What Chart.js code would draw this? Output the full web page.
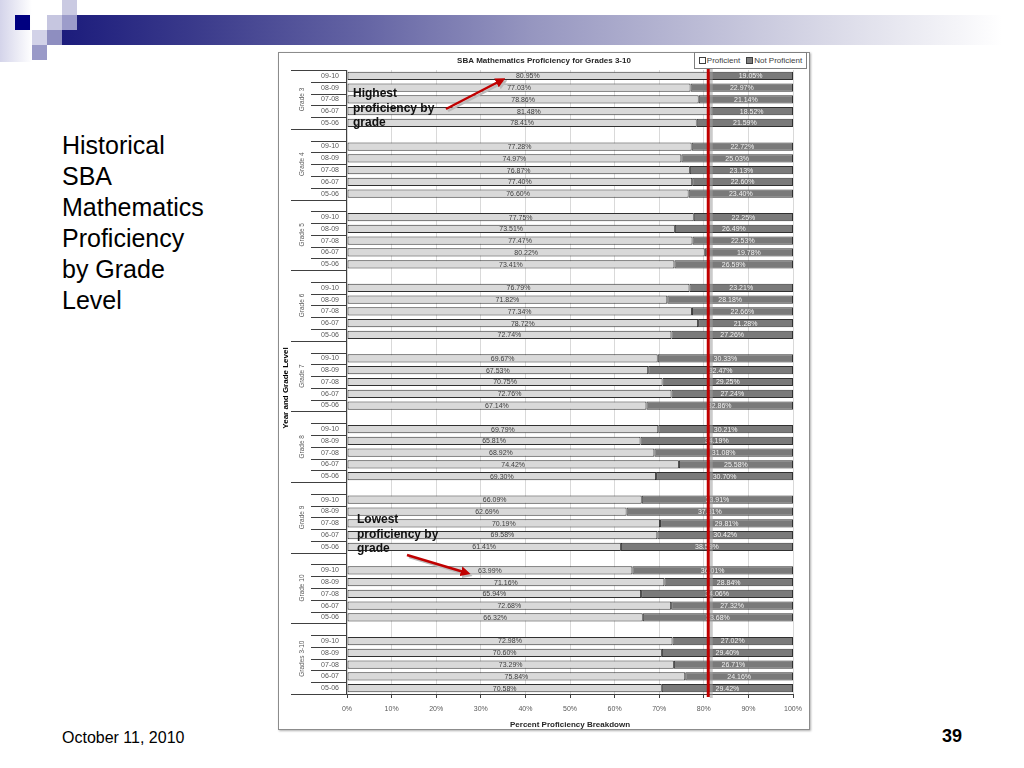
<!DOCTYPE html>
<html>
<head>
<meta charset="utf-8">
<title>Historical SBA Mathematics Proficiency by Grade Level</title>
<script src="https://cdn.jsdelivr.net/npm/chart.js@4.4.0/dist/chart.umd.min.js"></script>
<style>
html,body{margin:0;padding:0;background:#fff;width:1024px;height:768px;overflow:hidden;font-family:"Liberation Sans",Arial,sans-serif;}
.abs{position:absolute;}
.sq{position:absolute;width:15px;height:15px;}
#band{left:62px;top:15px;width:940px;height:30px;background:linear-gradient(to right,#1c1c7c 0%,#3c3c8c 15%,#6464a4 32%,#9696c0 50%,#bcbcd6 68%,#dcdce9 83%,#f4f4f8 95%,#ffffff 100%);}
#fade{left:0;top:0;width:32px;height:62px;background:linear-gradient(to right,#d4d4ea,#ffffff);}
#sideText{left:62px;top:130px;font-size:25px;line-height:31px;color:#000;}
#date{left:62px;top:729px;font-size:16px;color:#000;}
#page{left:930px;top:726px;font-size:18px;font-weight:bold;color:#000;width:32px;text-align:right;}
#frame{left:278px;top:52px;width:530px;height:676px;border:1px solid #8c8c8c;box-shadow:1px 1px 2px #b0b0b0;background:#fff;}
#chartBox{left:278px;top:52px;width:532px;height:678px;}
#legend{left:694px;top:52px;width:111px;height:15px;border:1px solid #7f7f7f;background:#fff;font-size:8px;color:#404040;display:flex;align-items:center;justify-content:center;gap:6px;white-space:nowrap;}
#legend i{display:inline-block;width:5px;height:5px;border:1px solid #404040;margin-right:1px;vertical-align:-1px;}
.note{position:absolute;font-size:12px;font-weight:bold;line-height:14.7px;color:#111;white-space:nowrap;}
#arrows{left:0;top:0;width:1024px;height:768px;pointer-events:none;}
</style>
</head>
<body>
<div class="abs" id="fade"></div>
<div class="abs" id="band"></div>
<div class="sq" style="left:62px;top:0;background:#cacae2"></div>
<div class="sq" style="left:15px;top:15px;background:#000080"></div>
<div class="sq" style="left:47px;top:15px;background:#c6c6e0"></div>
<div class="sq" style="left:62px;top:15px;background:#9c9cca"></div>
<div class="sq" style="left:32px;top:30px;background:#d2d2e8"></div>
<div class="sq" style="left:47px;top:30px;background:#8e8ec0"></div>
<div class="sq" style="left:32px;top:45px;background:#9a9ac8"></div>

<div class="abs" id="sideText">Historical<br>SBA<br>Mathematics<br>Proficiency<br>by Grade<br>Level</div>
<div class="abs" id="date">October 11, 2010</div>
<div class="abs" id="page">39</div>

<div class="abs" id="frame"></div>
<div class="abs" id="chartBox"><canvas id="c" width="532" height="678"></canvas></div>
<div class="abs" id="legend"><span><i style="background:#fff"></i>Proficient</span><span><i style="background:#7f7f7f"></i>Not Proficient</span></div>

<div class="note" style="left:353px;top:86px;">Highest<br>proficiency by<br>grade</div>
<div class="note" style="left:357px;top:512px;">Lowest<br>proficiency by<br>grade</div>
<svg class="abs" id="arrows" viewBox="0 0 1024 768">
  <defs>
    <marker id="ah" markerWidth="4" markerHeight="4" refX="2.5" refY="2" orient="auto"><path d="M0,0 L4,2 L0,4 z" fill="#c00000"/></marker>
    <marker id="ahs" markerWidth="4" markerHeight="4" refX="2.5" refY="2" orient="auto"><path d="M0,0 L4,2 L0,4 z" fill="#bbbbbb"/></marker>
  </defs>
  <line x1="448" y1="111" x2="504" y2="82" stroke="#bbbbbb" stroke-width="2.5" marker-end="url(#ahs)"/>
  <line x1="446" y1="109" x2="502" y2="80" stroke="#c00000" stroke-width="2.5" marker-end="url(#ah)"/>
  <line x1="409" y1="557" x2="469" y2="575" stroke="#bbbbbb" stroke-width="2.5" marker-end="url(#ahs)"/>
  <line x1="407" y1="555" x2="467" y2="573" stroke="#c00000" stroke-width="2.5" marker-end="url(#ah)"/>
</svg>

<script>
// ---- data ----
const grades = ['Grade 3','Grade 4','Grade 5','Grade 6','Grade 7','Grade 8','Grade 9','Grade 10','Grades 3-10'];
const years = ['09-10','08-09','07-08','06-07','05-06'];
// percent proficient, 5 years per grade (same order as years)
const proficient = [
  80.95,77.03,78.86,81.48,78.41,
  77.28,74.97,76.87,77.40,76.60,
  77.75,73.51,77.47,80.22,73.41,
  76.79,71.82,77.34,78.72,72.74,
  69.67,67.53,70.75,72.76,67.14,
  69.79,65.81,68.92,74.42,69.30,
  66.09,62.69,70.19,69.58,61.41,
  63.99,71.16,65.94,72.68,66.32,
  72.98,70.60,73.29,75.84,70.58
];
const notProficient = [
  19.05,22.97,21.14,18.52,21.59,
  22.72,25.03,23.13,22.60,23.40,
  22.25,26.49,22.53,19.78,26.59,
  23.21,28.18,22.66,21.28,27.26,
  30.33,32.47,29.25,27.24,32.86,
  30.21,34.19,31.08,25.58,30.70,
  33.91,37.31,29.81,30.42,38.59,
  36.01,28.84,34.06,27.32,33.68,
  27.02,29.40,26.71,24.16,29.42
];
const xTickValues = [0,10,20,30,40,50,60,70,80,90,100];
const targetLine = 81;
const chartTitle = 'SBA Mathematics Proficiency for Grades 3-10';
const xTitle = 'Percent Proficiency Breakdown';
const yTitle = 'Year and Grade Level';

// ---- build category rows (blank row between grade groups) ----
const labels = [], profData = [], notData = [], groupOf = [];
grades.forEach((g, gi) => {
  if (gi > 0) { labels.push(''); profData.push(null); notData.push(null); groupOf.push(gi); }
  years.forEach((yv, yi) => {
    labels.push(yv);
    profData.push(proficient[gi*5+yi]);
    notData.push(notProficient[gi*5+yi]);
    groupOf.push(gi);
  });
});

const FONT = '"Liberation Sans", Arial, sans-serif';

const deco = {
  id: 'deco',
  afterDatasetsDraw(chart) {
    const {ctx, chartArea: a, scales: {x, y}} = chart;
    ctx.save();
    // data labels
    ctx.font = '7px ' + FONT;
    ctx.textAlign = 'center';
    ctx.textBaseline = 'middle';
    chart.data.datasets.forEach((ds, di) => {
      const meta = chart.getDatasetMeta(di);
      meta.data.forEach((el, i) => {
        const v = ds.data[i];
        if (v == null) return;
        const c = el.getCenterPoint();
        ctx.fillStyle = di === 0 ? '#3c3c3c' : '#f2f2f2';
        ctx.fillText(v.toFixed(2) + '%', c.x, c.y + 0.5);
      });
    });
    // target line with shadow
    const rx = x.getPixelForValue(targetLine);
    ctx.lineWidth = 3;
    ctx.strokeStyle = 'rgba(160,160,160,0.55)';
    ctx.beginPath(); ctx.moveTo(rx + 3, a.top - 10); ctx.lineTo(rx + 3, a.bottom + 4); ctx.stroke();
    ctx.strokeStyle = '#c00000';
    ctx.beginPath(); ctx.moveTo(rx, a.top - 12); ctx.lineTo(rx, a.bottom + 3); ctx.stroke();
    ctx.restore();
  },
  afterDraw(chart) {
    const {ctx, chartArea: a, scales: {y}} = chart;
    const n = labels.length;
    const half = Math.abs(y.getPixelForValue(1) - y.getPixelForValue(0)) / 2;
    const edge = i => (i < n ? y.getPixelForValue(i) - half : y.getPixelForValue(n - 1) + half);
    ctx.save();
    // category axis line
    ctx.strokeStyle = '#404040';
    ctx.lineWidth = 1;
    ctx.beginPath(); ctx.moveTo(Math.round(a.left) - 0.5, a.top); ctx.lineTo(Math.round(a.left) - 0.5, a.bottom); ctx.stroke();
    // tick separators
    for (let i = 0; i <= n; i++) {
      const yy = Math.round(edge(i)) + 0.5;
      const isGroup = i === 0 || i === n || labels[i] === '';
      ctx.beginPath();
      ctx.moveTo(a.left - (isGroup ? 56 : 36), yy);
      ctx.lineTo(a.left, yy);
      ctx.stroke();
    }
    // year labels
    ctx.fillStyle = '#595959';
    ctx.font = '7px ' + FONT;
    ctx.textAlign = 'right';
    ctx.textBaseline = 'middle';
    labels.forEach((l, i) => { if (l) ctx.fillText(l, a.left - 8, y.getPixelForValue(i)); });
    // grade labels (rotated)
    ctx.font = '6.5px ' + FONT;
    ctx.textAlign = 'center';
    grades.forEach((g, gi) => {
      const idx = groupOf.map((v, i) => v === gi ? i : -1).filter(i => i >= 0);
      const top = edge(idx[0]), bot = edge(idx[idx.length - 1] + 1);
      ctx.save();
      ctx.translate(a.left - 45, (top + bot) / 2);
      ctx.rotate(-Math.PI / 2);
      ctx.fillText(g, 0, 0);
      ctx.restore();
    });
    // y axis title
    ctx.save();
    ctx.fillStyle = '#000';
    ctx.font = 'bold 8px ' + FONT;
    ctx.translate(a.left - 61, (a.top + a.bottom) / 2 + 6);
    ctx.rotate(-Math.PI / 2);
    ctx.fillText(yTitle, 0, 0);
    ctx.restore();
    // chart title
    ctx.fillStyle = '#262626';
    ctx.font = 'bold 8px ' + FONT;
    ctx.textAlign = 'center';
    ctx.fillText(chartTitle, 266, 9);
    ctx.restore();
  }
};

new Chart(document.getElementById('c'), {
  type: 'bar',
  data: {
    labels: labels,
    datasets: [
      { label: 'Proficient', data: profData, backgroundColor: '#d9d9d9', borderColor: '#303030', borderWidth: 1, borderSkipped: false },
      { label: 'Not Proficient', data: notData, backgroundColor: '#7a7a7a', borderColor: '#303030', borderWidth: 1, borderSkipped: false }
    ]
  },
  options: {
    indexAxis: 'y',
    responsive: false,
    animation: false,
    devicePixelRatio: 1,
    layout: { padding: { left: 69, right: 17, top: 18, bottom: 0 } },
    datasets: { bar: { categoryPercentage: 1, barPercentage: 0.7 } },
    plugins: { legend: { display: false }, title: { display: false }, tooltip: { enabled: false } },
    scales: {
      x: {
        stacked: true, min: 0, max: 100,
        afterBuildTicks: s => { s.ticks = xTickValues.map(v => ({ value: v })); },
        grid: { color: '#d9d9d9', tickColor: '#404040', tickLength: 4, drawTicks: true },
        border: { display: true, color: '#404040' },
        ticks: { callback: v => v + '%', color: '#595959', font: { family: FONT, size: 7 }, padding: 7, maxRotation: 0 },
        title: { display: true, text: xTitle, color: '#262626', font: { family: FONT, size: 8, weight: 'bold' }, padding: { top: 0, bottom: 0 } }
      },
      y: { stacked: true, display: false }
    }
  },
  plugins: [deco]
});
</script>
</body>
</html>
